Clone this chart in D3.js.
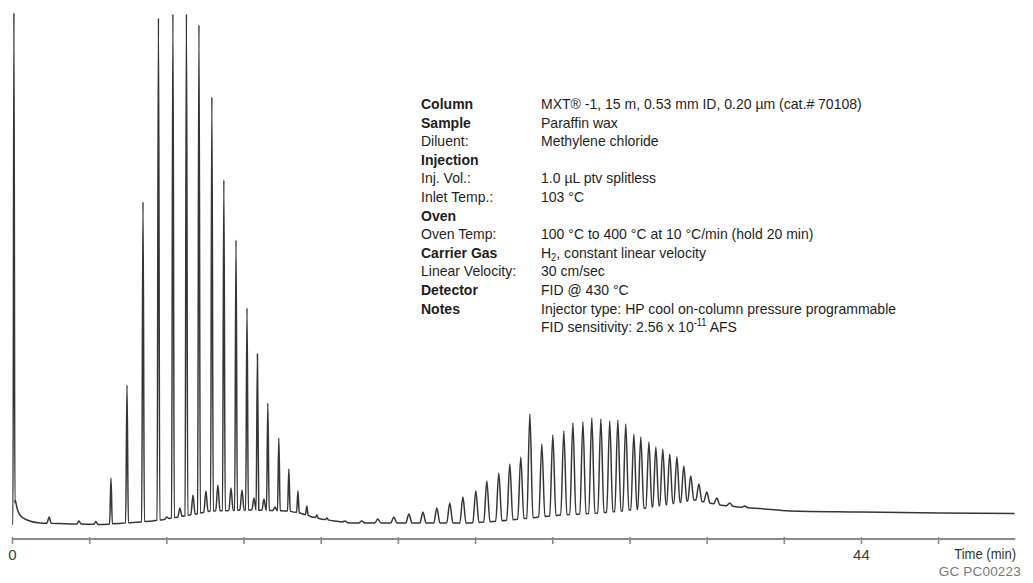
<!DOCTYPE html>
<html><head><meta charset="utf-8">
<script src="https://cdn.jsdelivr.net/npm/d3@7"></script>
<style>
body{margin:0;background:#fff;}
svg{display:block;}
</style></head><body>
<svg id="chart" width="1033" height="583"></svg>
<script>
// ---------------- data ----------------
const xTickValues = [0, 4, 8, 12, 16, 20, 24, 28, 32, 36, 40, 44, 48];
const xTickShown = [0, 44];
const axisLabel = "Time (min)";
const footnote = "GC PC00223";

// solvent peak
const solventRT = [0.10];
const solventTop = [100];
// light n-alkane cluster (retention time, min / apex signal)
const lightRT = [5.13, 5.96, 6.79, 7.59, 8.34, 9.04, 9.69, 10.36, 10.98, 11.61, 12.18, 12.72, 13.26, 13.83, 14.35, 14.82, 15.28, 15.80, 16.32];
const lightTop = [9.18, 27.34, 63.09, 99.02, 99.8, 99.8, 97.66, 83.59, 67.38, 55.66, 42.38, 33.40, 23.83, 16.99, 10.94, 6.64, 3.71, 1.95, 1.37];
// small side peaks
const minorRT = [1.92, 3.47, 4.35, 8.03, 8.70, 9.38, 10.05, 10.67, 11.35, 11.92, 12.54, 13.06, 13.63, 14.15];
const minorTop = [1.56, 0.78, 0.68, 1.56, 3.32, 5.86, 6.64, 7.81, 7.23, 6.84, 5.27, 5.08, 3.52, 2.73];
// heavy wax cluster
const heavyRT = [17.25, 18.13, 18.96, 19.79, 20.57, 21.30, 22.02, 22.69, 23.37, 24.04, 24.61, 25.23, 25.80, 26.37, 26.84, 27.46, 28.03, 28.60, 29.07, 29.59, 30.05, 30.52, 30.98, 31.40, 31.81, 32.23, 32.59, 33.01, 33.37, 33.73, 34.09, 34.46, 34.82, 35.18, 35.60, 36.01, 36.53, 37.20, 37.98];
const heavyTop = [0.78, 0.78, 1.17, 1.56, 2.15, 2.54, 3.32, 4.30, 5.47, 6.64, 8.59, 10.16, 11.91, 13.28, 21.68, 15.82, 17.58, 18.36, 19.92, 20.12, 20.90, 20.70, 20.31, 20.51, 19.73, 17.77, 17.19, 16.21, 15.23, 14.84, 13.87, 13.28, 11.52, 9.57, 8.01, 6.45, 5.27, 4.30, 3.71];
// baseline (time, signal)
const baseTimes = [0, 0.08, 0.16, 0.26, 0.41, 0.78, 1.45, 2.49, 4.56, 6.63, 7.67, 9.22, 10.26, 12.33, 14.40, 14.92, 15.80, 16.74, 17.51, 23.73, 25.28, 26.84, 28.39, 30.47, 32.54, 34.09, 35.39, 36.68, 37.98, 38.76, 40.31, 43.94, 48.08, 51.97];
const baseLevels = [0.20, 0.20, 4.88, 3.32, 1.95, 0.98, 0.39, 0.29, 0.10, 0.59, 0.98, 1.95, 2.73, 2.93, 2.73, 2.34, 1.37, 0.78, 0.39, 0.39, 0.78, 1.37, 1.95, 2.34, 3.13, 4.10, 4.88, 3.91, 3.42, 3.22, 2.73, 2.54, 2.34, 2.25];
// peak half widths (min)
const solventHW = 0.05, lightHW = 0.07, minorHW = 0.11, heavyHW = 0.16;

// conditions block
const infoLabels = ["Column", "Sample", "Diluent:", "Injection", "Inj. Vol.:", "Inlet Temp.:", "Oven", "Oven Temp:", "Carrier Gas", "Linear Velocity:", "Detector", "Notes", ""];
const infoBold = [true, true, false, true, false, false, true, false, true, false, true, true, false];
const infoValues = [
  "MXT® -1, 15 m, 0.53 mm ID, 0.20 µm (cat.# 70108)",
  "Paraffin wax",
  "Methylene chloride",
  "",
  "1.0 µL ptv splitless",
  "103 °C",
  "",
  "100 °C to 400 °C at 10 °C/min (hold 20 min)",
  "H_{2}, constant linear velocity",
  "30 cm/sec",
  "FID @ 430 °C",
  "Injector type: HP cool on-column pressure programmable",
  "FID sensitivity: 2.56 x 10^{-11} AFS"
];

// ---------------- drawing ----------------
const svg = d3.select("#chart");
const FONT = "'Liberation Sans','Arimo',sans-serif";
const x = d3.scaleLinear().domain([0, 52]).range([12, 1015.3]);
const y = d3.scaleLinear().domain([0, 100]).range([525, 13]);
const baseline = d3.scaleLinear().domain(baseTimes).range(baseLevels).clamp(true);

const peaks = [].concat(
  solventRT.map((t, i) => ({t, top: solventTop[i], hw: solventHW})),
  lightRT.map((t, i) => ({t, top: lightTop[i], hw: lightHW})),
  minorRT.map((t, i) => ({t, top: minorTop[i], hw: minorHW})),
  heavyRT.map((t, i) => ({t, top: heavyTop[i], hw: heavyHW}))
).sort((a, b) => a.t - b.t);

const pts = [];
peaks.forEach(p => {
  pts.push([p.t - p.hw, baseline(p.t - p.hw)], [p.t, p.top], [p.t + p.hw, baseline(p.t + p.hw)]);
});
baseTimes.forEach((t, i) => {
  if (!peaks.some(p => Math.abs(t - p.t) <= p.hw + 1e-9)) pts.push([t, baseLevels[i]]);
});
pts.sort((a, b) => a[0] - b[0]);
const clean = pts.filter((p, i) => i === 0 || p[0] > pts[i - 1][0] + 1e-6);

const line = d3.line().x(d => x(Math.max(0, d[0]))).y(d => y(d[1])).curve(d3.curveMonotoneX);
svg.append("path").datum(clean)
  .attr("d", line)
  .attr("fill", "none")
  .attr("stroke", "#363636")
  .attr("stroke-width", 1.5)
  .attr("stroke-linejoin", "round");

// x axis
const axisY = 539;
const axis = d3.axisBottom(x).tickValues(xTickValues).tickSize(5).tickPadding(5)
  .tickFormat(d => xTickShown.includes(d) ? String(d) : "");
const gAxis = svg.append("g").attr("transform", `translate(0,${axisY})`).call(axis);
gAxis.select(".domain").attr("stroke", "#8a8a8a").attr("stroke-width", 2.2)
  .attr("d", `M${x(0)},0H${x(52)}`);
gAxis.selectAll(".tick line").attr("stroke", "#8a8a8a").attr("stroke-width", 1.6).attr("y1", -2);
gAxis.selectAll(".tick text")
  .attr("font-family", FONT)
  .attr("font-size", 15)
  .attr("fill", "#3c3c3c");
gAxis.selectAll(".tick").filter(d => !xTickShown.includes(d)).select("text").remove();

svg.append("text").attr("transform", "translate(1016,559) scale(0.87,1)").attr("text-anchor", "end")
  .attr("font-family", FONT)
  .attr("font-size", 15).attr("fill", "#333").text(axisLabel);
svg.append("text").attr("x", 1021).attr("y", 576).attr("text-anchor", "end")
  .attr("font-family", FONT)
  .attr("font-size", 13.5).attr("letter-spacing", 0.2).attr("fill", "#777").text(footnote);

// conditions block (horizontally condensed to match the narrow face)
const sx = 0.935;
const info = svg.append("g")
  .attr("transform", `translate(421,0) scale(${sx},1)`)
  .attr("font-family", FONT)
  .attr("font-size", 15).attr("fill", "#1e1e1e");
const valueX = (541 - 421) / sx;
const rowY = i => 109 + i * 18.6;
infoLabels.forEach((lab, i) => {
  if (lab) info.append("text").attr("x", 0).attr("y", rowY(i))
    .attr("font-weight", infoBold[i] ? "bold" : "normal").text(lab);
  const v = infoValues[i];
  if (!v) return;
  const t = info.append("text").attr("x", valueX).attr("y", rowY(i));
  const re = /([_^])\{([^}]*)\}/g;
  let last = 0, m, pendingDy = 0;
  while ((m = re.exec(v)) !== null) {
    if (m.index > last) t.append("tspan").attr("dy", pendingDy || null).text(v.slice(last, m.index));
    const shift = m[1] === "_" ? 3 : -6;
    t.append("tspan").attr("font-size", 10).attr("dy", shift).text(m[2]);
    pendingDy = -shift;
    last = re.lastIndex;
  }
  if (last < v.length) t.append("tspan").attr("dy", pendingDy || null).text(v.slice(last));
});
</script>
</body></html>
